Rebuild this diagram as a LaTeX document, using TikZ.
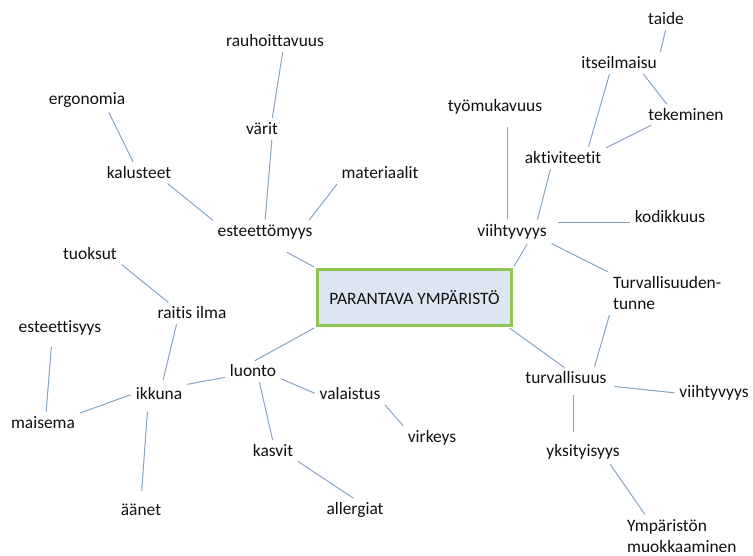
\documentclass[tikz,border=0pt]{standalone}
\usepackage{fontspec}
\setmainfont{Carlito}[Ligatures=NoCommon]
\definecolor{Ink}{HTML}{101010}
\definecolor{Wire}{HTML}{86A3C3}
\definecolor{Leaf}{HTML}{92C451}
\definecolor{Mist}{HTML}{DCE6F2}
\tikzset{
  every node/.append style={text=Ink},
  word/.style={inner sep=3pt, font=\fontsize{17.4}{21.5}\selectfont},
  wordtwo/.style={word, align=left, anchor=west},
  core/.style={word, draw=Leaf, line width=3pt, fill=Mist,
               minimum width=194pt, minimum height=56pt},
  link/.style={draw=Wire, line width=1pt, shorten <=2pt, shorten >=2pt},
}
\begin{document}
\begin{tikzpicture}[x=1pt, y=-1pt]
  \useasboundingbox (0,0) rectangle (753,556);
  % centre
  \node[core] (core) at (414.5,297.5) {PARANTAVA YMPÄRISTÖ};
  % upper left branch
  \node[word] (est)   at (265,232) {esteettömyys};
  \node[word] (rauh)  at (275,41)  {rauhoittavuus};
  \node[word] (varit) at (262,129) {värit};
  \node[word] (ergo)  at (87,100)  {ergonomia};
  \node[word] (kal)   at (139,173) {kalusteet};
  \node[word] (mat)   at (380,173) {materiaalit};
  % lower left branch
  \node[word] (luonto) at (253,371) {luonto};
  \node[word] (tuok)   at (90,254)  {tuoksut};
  \node[word] (raitis) at (192,313) {raitis ilma};
  \node[word] (esttis) at (60,328)  {esteettisyys};
  \node[word] (ikkuna) at (159,394) {ikkuna};
  \node[word] (maisema) at (43,423) {maisema};
  \node[word] (aanet)  at (141,510) {äänet};
  \node[word] (valo)   at (350,394) {valaistus};
  \node[word] (virk)   at (432,438) {virkeys};
  \node[word] (kasvit) at (273,451) {kasvit};
  \node[word] (allerg) at (355,510) {allergiat};
  % upper right branch
  \node[word] (viiht) at (512,232) {viihtyvyys};
  \node[word] (tyo)   at (495,107) {työmukavuus};
  \node[word] (akt)   at (563,158) {aktiviteetit};
  \node[word] (itse)  at (619,63)  {itseilmaisu};
  \node[word] (taide) at (666,19)  {taide};
  \node[word] (tek)   at (686,115) {tekeminen};
  \node[word] (kod)   at (670,217) {kodikkuus};
  \node[wordtwo] (tunne) at (610,293) {Turvallisuuden-\\tunne};
  % lower right branch
  \node[word] (turv)   at (566,378) {turvallisuus};
  \node[word] (viihtb) at (714,393) {viihtyvyys};
  \node[word] (yks)    at (583,452) {yksityisyys};
  \node[wordtwo] (muok) at (624,536) {Ympäristön\\muokkaaminen};

  \draw[link] ([xshift=8pt]rauh.south) -- ([xshift=10pt]varit.north);
  \draw[link] ([xshift=10pt]varit.south) -- (est.north);
  \draw[link] ([xshift=21pt]ergo.south) -- ([xshift=-5pt]kal.north);
  \draw[link] ([xshift=27pt]kal.south) -- (est.north west);
  \draw[link] (mat.south west) -- ([xshift=43pt]est.north);
  \draw[link, shorten <=0pt] ([shift={(22pt,-10pt)}]est.south) -- (core.north west);
  \draw[link] (core.south west) -- (luonto.north);
  \draw[link] ([yshift=-6pt]luonto.west) -- (ikkuna.north east);
  \draw[link, shorten >=5pt] ([xshift=-15pt]raitis.south) -- ([xshift=3pt]ikkuna.north);
  \draw[link] (tuok.south east) -- ([xshift=-22pt]raitis.north);
  \draw[link, shorten <=8pt] ([xshift=-8pt]esttis.south) -- ([xshift=3pt]maisema.north);
  \draw[link] (maisema.north east) -- (ikkuna.west);
  \draw[link, shorten <=8pt, shorten >=10pt] ([xshift=-11pt]ikkuna.south) -- (aanet.north);
  \draw[link] ([xshift=6pt]luonto.south) -- (kasvit.north);
  \draw[link] (kasvit.south east) -- (allerg.north);
  \draw[link] ([yshift=-7pt]luonto.east) -- (valo.west);
  \draw[link] (valo.south east) -- (virk.north west);

  \draw[link] (taide.south) -- (itse.north east);
  \draw[link] ([xshift=23pt]itse.south) -- ([xshift=-18pt]tek.north);
  \draw[link] ([xshift=-9pt]itse.south) -- ([xshift=25pt]akt.north);
  \draw[link] ([xshift=-33pt]tek.south) -- (akt.north east);
  \draw[link, shorten <=9pt] ([xshift=12pt]tyo.south) -- ([xshift=-5pt]viiht.north);
  \draw[link] ([xshift=-12pt]akt.south) -- ([xshift=25pt]viiht.north);
  \draw[link, shorten <=8pt] ([yshift=9pt]viiht.east) -- ([yshift=-6pt]kod.west);
  \draw[link] ([xshift=16pt]viiht.south) -- (core.north east);
  \draw[link] (viiht.south east) -- (tunne.north west);
  \draw[link] (tunne.south west) -- ([xshift=28pt]turv.north);
  \draw[link] ([xshift=-5pt]core.south east) -- (turv.north);
  \draw[link, shorten <=5pt] ([yshift=-8pt]turv.east) -- (viihtb.west);
  \draw[link, shorten <=8pt, shorten >=9pt] ([xshift=7pt]turv.south) -- ([xshift=-10pt]yks.north);
  \draw[link] ([xshift=26pt]yks.south) -- ([xshift=22pt]muok.north west);
\end{tikzpicture}
\end{document}
